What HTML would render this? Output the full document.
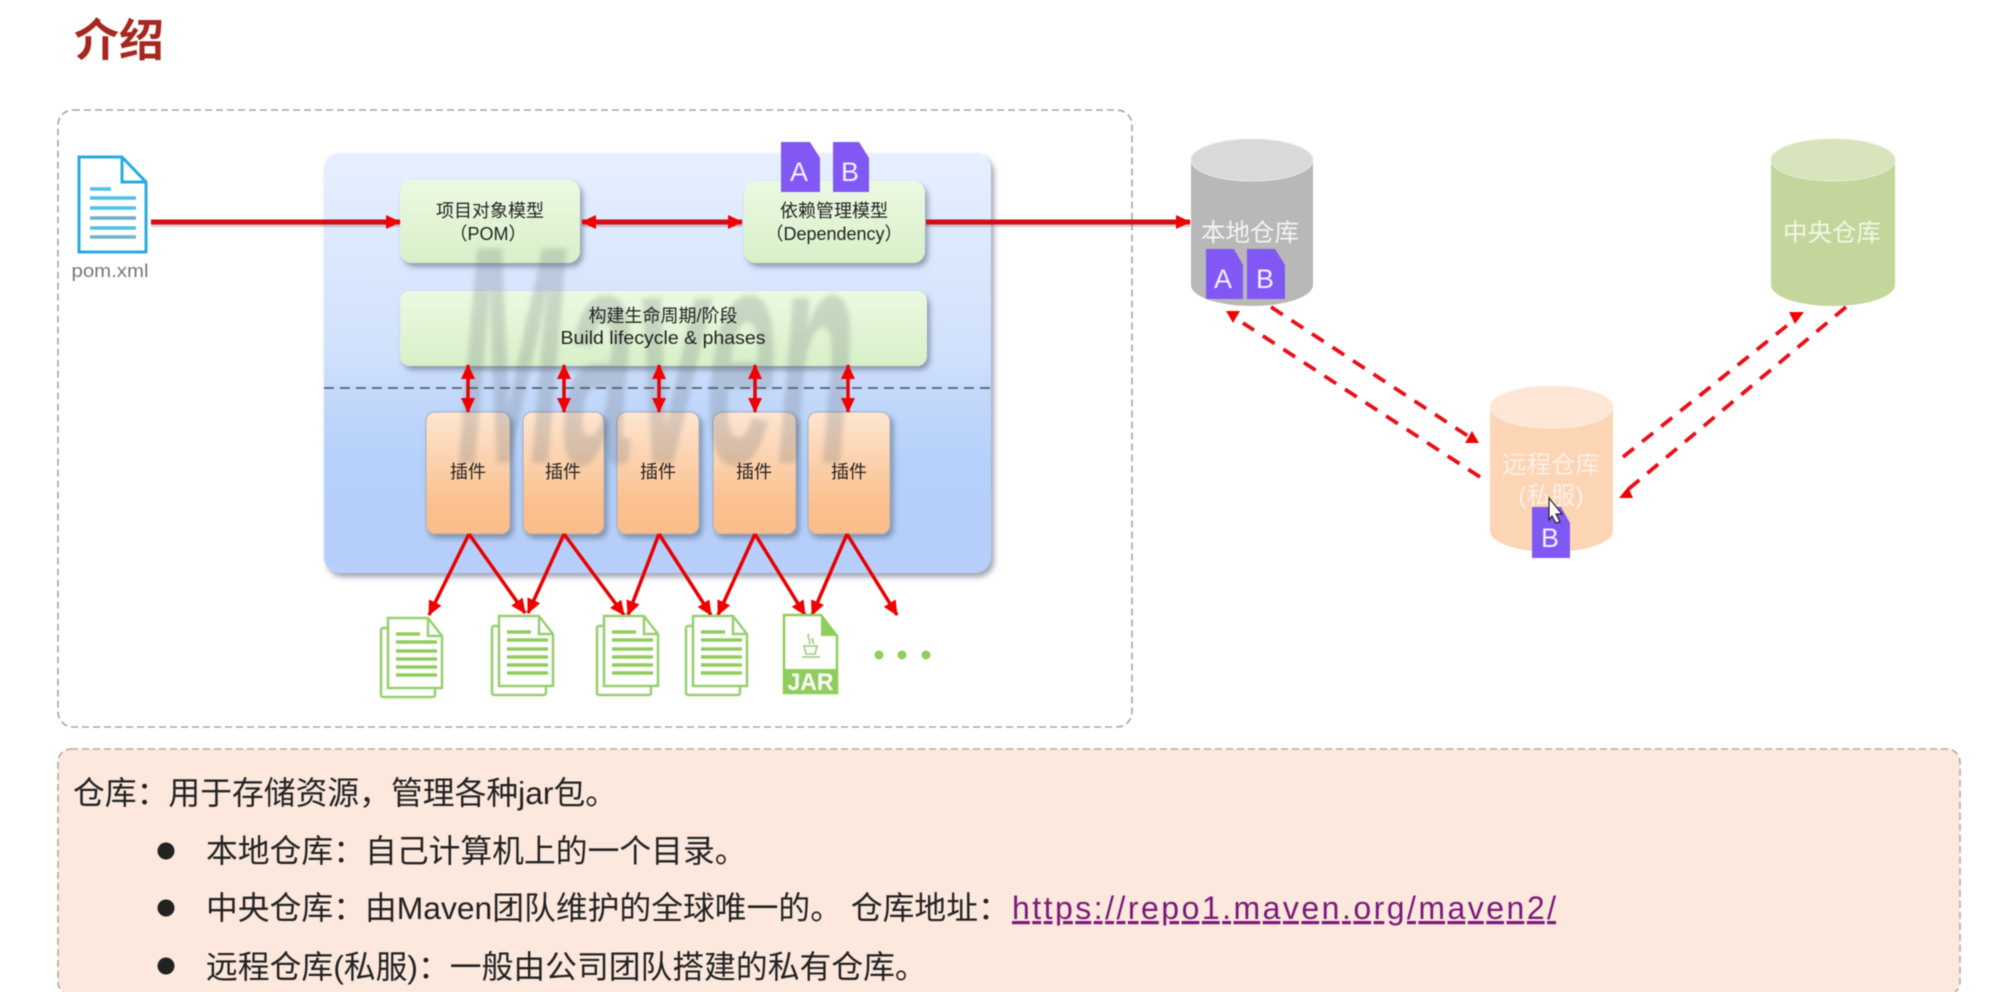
<!DOCTYPE html>
<html><head><meta charset="utf-8"><style>
html,body{margin:0;padding:0;background:#fff;width:2008px;height:992px;overflow:hidden}
svg{display:block;font-family:"Liberation Sans","Noto Sans CJK SC",sans-serif;filter:blur(.6px)}
</style></head><body>
<svg width="2008" height="992" viewBox="0 0 2008 992" xmlns="http://www.w3.org/2000/svg">
<defs>
<linearGradient id="p" x1="0" y1="0" x2="0" y2="1"><stop offset="0" stop-color="#e6f0ff"/><stop offset=".5" stop-color="#d0e0fc"/><stop offset=".56" stop-color="#c4d9fb"/><stop offset=".75" stop-color="#b4d0fb"/><stop offset="1" stop-color="#b7cffa"/></linearGradient>
<linearGradient id="g" x1="0" y1="0" x2="0" y2="1"><stop offset="0" stop-color="#ecf9e2"/><stop offset="1" stop-color="#d8f0c9"/></linearGradient>
<linearGradient id="o" x1="0" y1="0" x2="0" y2="1"><stop offset="0" stop-color="#fde6d2"/><stop offset=".75" stop-color="#fbc08e"/><stop offset="1" stop-color="#fbbd8a"/></linearGradient>
<filter id="sh" x="-10%" y="-10%" width="125%" height="125%"><feDropShadow dx="3" dy="4" stdDeviation="3" flood-color="#5a6a80" flood-opacity=".6"/></filter>
<filter id="b1" x="-5%" y="-5%" width="110%" height="110%"><feGaussianBlur stdDeviation="2.5"/></filter>
<marker id="ah" markerUnits="userSpaceOnUse" markerWidth="16" markerHeight="16" refX="14" refY="7" orient="auto-start-reverse"><path d="M0 0L15 7L0 14z" fill="#f00000"/></marker>
<marker id="ahs" markerUnits="userSpaceOnUse" markerWidth="16" markerHeight="15" refX="14" refY="7" orient="auto-start-reverse"><path d="M0 0L15 7L0 14z" fill="#f00000"/></marker>
</defs>

<text x="74" y="56" font-size="45" font-weight="bold" fill="#a5281f">介绍</text>

<rect x="58" y="110" width="1074" height="617" rx="15" fill="#fff" stroke="#a6a6a6" stroke-width="1.6" stroke-dasharray="7 4"/>

<rect x="324" y="153" width="667" height="420" rx="16" fill="url(#p)" filter="url(#sh)"/>

<g filter="url(#sh)">
<rect x="400" y="180" width="180" height="83" rx="12" fill="url(#g)"/>
<rect x="744" y="181" width="181" height="82" rx="12" fill="url(#g)"/>
<rect x="400" y="291" width="527" height="75" rx="10" fill="url(#g)"/>
<rect x="426" y="412" width="84" height="122" rx="9" fill="url(#o)" stroke="#a7aebb"/>
<rect x="523" y="412" width="81" height="122" rx="9" fill="url(#o)" stroke="#a7aebb"/>
<rect x="617" y="412" width="82" height="122" rx="9" fill="url(#o)" stroke="#a7aebb"/>
<rect x="713" y="412" width="83" height="122" rx="9" fill="url(#o)" stroke="#a7aebb"/>
<rect x="808" y="412" width="82" height="122" rx="9" fill="url(#o)" stroke="#a7aebb"/>
</g>

<line x1="324" y1="388" x2="991" y2="388" stroke="#556070" stroke-width="1.8" stroke-dasharray="10 6"/>

<text x="0" y="0" transform="translate(450 463) skewX(-5)" font-size="312" font-weight="bold" fill="#5c5f62" fill-opacity=".21" textLength="398" lengthAdjust="spacingAndGlyphs" filter="url(#b1)">Maven</text>

<g font-size="18" fill="#222" text-anchor="middle">
<text x="490" y="217">项目对象模型</text>
<text x="488" y="240">（POM）</text>
<text x="834" y="217">依赖管理模型</text>
<text x="834" y="240">（Dependency）</text>
<text x="663" y="322">构建生命周期/阶段</text>
<text x="663" y="344" textLength="205" lengthAdjust="spacingAndGlyphs">Build lifecycle &amp; phases</text>
<text x="468" y="478">插件</text><text x="563" y="478">插件</text><text x="658" y="478">插件</text><text x="754" y="478">插件</text><text x="849" y="478">插件</text>
</g>

<!-- pom file -->
<path d="M79 157H122L146 182V252H79z" fill="#fff" stroke="#29abe2" stroke-width="3"/>
<path d="M122 157V182H146" fill="none" stroke="#29abe2" stroke-width="3"/>
<g stroke="#4fc0e6" stroke-width="3.5">
<line x1="90" y1="189" x2="111" y2="189"/><line x1="90" y1="198" x2="136" y2="198"/><line x1="90" y1="208" x2="136" y2="208"/><line x1="90" y1="218" x2="136" y2="218" stroke="#71aec4"/><line x1="90" y1="228" x2="136" y2="228"/><line x1="90" y1="237" x2="136" y2="237" stroke="#71b5c9"/>
</g>
<text x="110" y="277" font-size="18.500" fill="#777" text-anchor="middle" textLength="77" lengthAdjust="spacingAndGlyphs">pom.xml</text>

<!-- main arrows -->
<g fill="none">
<line x1="151" y1="224.500" x2="400" y2="224.500" stroke="#777" stroke-width="5" opacity=".35"/>
<line x1="582" y1="224.500" x2="742" y2="224.500" stroke="#777" stroke-width="5" opacity=".35"/>
<line x1="926" y1="224.500" x2="1190" y2="224.500" stroke="#777" stroke-width="5" opacity=".35"/>
<line x1="151" y1="222" x2="400" y2="222" stroke="#d80a14" stroke-width="5" marker-end="url(#ah)"/>
<line x1="582" y1="222" x2="742" y2="222" stroke="#d80a14" stroke-width="5" marker-start="url(#ah)" marker-end="url(#ah)"/>
<line x1="926" y1="222" x2="1190" y2="222" stroke="#d80a14" stroke-width="5" marker-end="url(#ah)"/>
</g>

<!-- vertical double arrows -->
<g stroke="#e80000" stroke-width="3.500" fill="none">
<line x1="468" y1="365" x2="468" y2="412" marker-start="url(#ahs)" marker-end="url(#ahs)"/>
<line x1="564" y1="365" x2="564" y2="412" marker-start="url(#ahs)" marker-end="url(#ahs)"/>
<line x1="659" y1="365" x2="659" y2="412" marker-start="url(#ahs)" marker-end="url(#ahs)"/>
<line x1="755" y1="365" x2="755" y2="412" marker-start="url(#ahs)" marker-end="url(#ahs)"/>
<line x1="848" y1="365" x2="848" y2="412" marker-start="url(#ahs)" marker-end="url(#ahs)"/>
</g>

<!-- down arrows -->
<g stroke="#e80000" stroke-width="3.500" fill="none">
<line x1="469" y1="534" x2="429" y2="615" marker-end="url(#ahs)"/>
<line x1="469" y1="534" x2="525" y2="613" marker-end="url(#ahs)"/>
<line x1="564" y1="534" x2="528" y2="613" marker-end="url(#ahs)"/>
<line x1="564" y1="534" x2="624" y2="615" marker-end="url(#ahs)"/>
<line x1="659" y1="534" x2="628" y2="615" marker-end="url(#ahs)"/>
<line x1="659" y1="534" x2="711" y2="615" marker-end="url(#ahs)"/>
<line x1="755" y1="534" x2="718" y2="615" marker-end="url(#ahs)"/>
<line x1="755" y1="534" x2="805" y2="615" marker-end="url(#ahs)"/>
<line x1="847" y1="534" x2="812" y2="615" marker-end="url(#ahs)"/>
<line x1="847" y1="534" x2="897" y2="615" marker-end="url(#ahs)"/>
</g>

<!-- docs -->
<g fill="#fff" stroke="#98d071" stroke-width="2.500">
<g transform="translate(380 617)"><rect x="1" y="11" width="54" height="69" rx="2"/><path d="M8 1H48L62 19V71H8z"/><path d="M48 1V19H62" fill="none"/><g stroke="#92cd5f" stroke-width="3.500"><line x1="16" y1="17" x2="40" y2="17"/><line x1="16" y1="25" x2="57" y2="25"/><line x1="16" y1="34" x2="57" y2="34"/><line x1="16" y1="42" x2="57" y2="42"/><line x1="16" y1="50" x2="57" y2="50"/><line x1="16" y1="58" x2="57" y2="58"/></g></g>
<g transform="translate(491 615)"><rect x="1" y="11" width="54" height="69" rx="2"/><path d="M8 1H48L62 19V71H8z"/><path d="M48 1V19H62" fill="none"/><g stroke="#92cd5f" stroke-width="3.500"><line x1="16" y1="17" x2="40" y2="17"/><line x1="16" y1="25" x2="57" y2="25"/><line x1="16" y1="34" x2="57" y2="34"/><line x1="16" y1="42" x2="57" y2="42"/><line x1="16" y1="50" x2="57" y2="50"/><line x1="16" y1="58" x2="57" y2="58"/></g></g>
<g transform="translate(596 615)"><rect x="1" y="11" width="54" height="69" rx="2"/><path d="M8 1H48L62 19V71H8z"/><path d="M48 1V19H62" fill="none"/><g stroke="#92cd5f" stroke-width="3.500"><line x1="16" y1="17" x2="40" y2="17"/><line x1="16" y1="25" x2="57" y2="25"/><line x1="16" y1="34" x2="57" y2="34"/><line x1="16" y1="42" x2="57" y2="42"/><line x1="16" y1="50" x2="57" y2="50"/><line x1="16" y1="58" x2="57" y2="58"/></g></g>
<g transform="translate(685 615)"><rect x="1" y="11" width="54" height="69" rx="2"/><path d="M8 1H48L62 19V71H8z"/><path d="M48 1V19H62" fill="none"/><g stroke="#92cd5f" stroke-width="3.500"><line x1="16" y1="17" x2="40" y2="17"/><line x1="16" y1="25" x2="57" y2="25"/><line x1="16" y1="34" x2="57" y2="34"/><line x1="16" y1="42" x2="57" y2="42"/><line x1="16" y1="50" x2="57" y2="50"/><line x1="16" y1="58" x2="57" y2="58"/></g></g>
</g>
<!-- jar -->
<path d="M784 615H821L837 636V693H784z" fill="#fff" stroke="#8fce5c" stroke-width="2.500"/>
<path d="M821 615L837 636H821z" fill="#8fce5c"/>
<rect x="784" y="669" width="53" height="25" fill="#8fce5c"/>
<text x="810.500" y="690" font-size="24" font-weight="bold" fill="#fff" text-anchor="middle" textLength="46" lengthAdjust="spacingAndGlyphs">JAR</text>
<path d="M804 646h13l-2 8h-9zM802 657h18M809 634c-3 4 3 6 0 10M813 638c-2 3 2 4 0 6" fill="none" stroke="#a8cf8d" stroke-width="1.800"/>
<circle cx="879" cy="655" r="4.500" fill="#8fce5c"/><circle cx="902" cy="655" r="4.500" fill="#8fce5c"/><circle cx="926" cy="655" r="4.500" fill="#8fce5c"/>

<!-- purple docs top -->
<g fill="#8258f4">
<path d="M781 142H810L820 158V192H781z"/><path d="M833 142H859L869 158V192H833z"/>
</g>
<g font-size="27" fill="#f3eeff" text-anchor="middle"><text x="799" y="181">A</text><text x="850" y="181">B</text></g>

<!-- cylinders -->
<path d="M1191 160V285A61 21 0 0 0 1313 285V160z" fill="#b8b8b8"/>
<ellipse cx="1252" cy="160" rx="61" ry="21" fill="#d9d9d9" stroke="#e8e8e8" stroke-width="1"/>
<path d="M1771 160V285A62 21 0 0 0 1895 285V160z" fill="#c3d69b"/>
<ellipse cx="1833" cy="160" rx="62" ry="21" fill="#d8e4bc" stroke="#e4edce" stroke-width="1"/>
<path d="M1490 407V531A61.500 21 0 0 0 1613 531V407z" fill="#fcd5b5"/>
<ellipse cx="1551.500" cy="407" rx="61.500" ry="21" fill="#fde6d6" stroke="#fdeee3" stroke-width="1"/>

<g font-size="24.500" fill="#f4f4f4" text-anchor="middle">
<text x="1250" y="241">本地仓库</text>
<text x="1832" y="241" fill="#f3f7e8">中央仓库</text>
<text x="1551" y="473" fill="#fdf0e6">远程仓库</text>
<text x="1551" y="504" fill="#fdf0e6">(私服)</text>
</g>

<g fill="#8258f4">
<path d="M1206 249H1234L1243 265V299H1206z"/><path d="M1247 249H1275L1285 265V299H1247z"/><path d="M1532 507H1561L1570 523V558H1532z"/>
</g>
<g font-size="27" fill="#f3eeff" text-anchor="middle"><text x="1223" y="288">A</text><text x="1265" y="288">B</text><text x="1550" y="547">B</text></g>

<!-- cursor -->
<path d="M1549 498L1562 514L1556 514L1560 522L1556 523L1552 516L1549 520z" fill="#fff" stroke="#222" stroke-width="1.200"/>

<!-- dashed arrows -->
<g stroke="#e8101a" stroke-width="3.800" stroke-dasharray="14 10.500" fill="none">
<line x1="1271" y1="307" x2="1468" y2="436"/>
<line x1="1480" y1="477" x2="1243" y2="323"/>
<line x1="1623" y1="457" x2="1794" y2="320"/>
<line x1="1846" y1="307" x2="1625" y2="492"/>
</g>
<g fill="#f00000">
<path d="M1472 431L1465 443H1479z"/>
<path d="M1226 311H1240L1233 323z"/>
<path d="M1789 312H1804L1795 324z"/>
<path d="M1628 487L1619 498H1633z"/>
</g>

<!-- info box -->
<rect x="58" y="749" width="1902" height="246" rx="13" fill="#fce8dd" stroke="#b4aaa4" stroke-width="1.600" stroke-dasharray="7 4"/>
<g font-size="31.800" fill="#222">
<text x="73" y="804">仓库：用于存储资源，管理各种jar包。</text>
<text x="206" y="862">本地仓库：自己计算机上的一个目录。</text>
<text x="206" y="919">中央仓库：由Maven团队维护的全球唯一的。 仓库地址：</text>
<text x="1012" y="919" font-size="32" fill="#7a1a7a" text-decoration="underline" textLength="544">https://repo1.maven.org/maven2/</text>
<text x="206" y="978">远程仓库(私服)：一般由公司团队搭建的私有仓库。</text>
</g>
<circle cx="166" cy="851" r="8.500" fill="#222"/><circle cx="166" cy="908" r="8.500" fill="#222"/><circle cx="166" cy="966" r="8.500" fill="#222"/>
</svg>
</body></html>
